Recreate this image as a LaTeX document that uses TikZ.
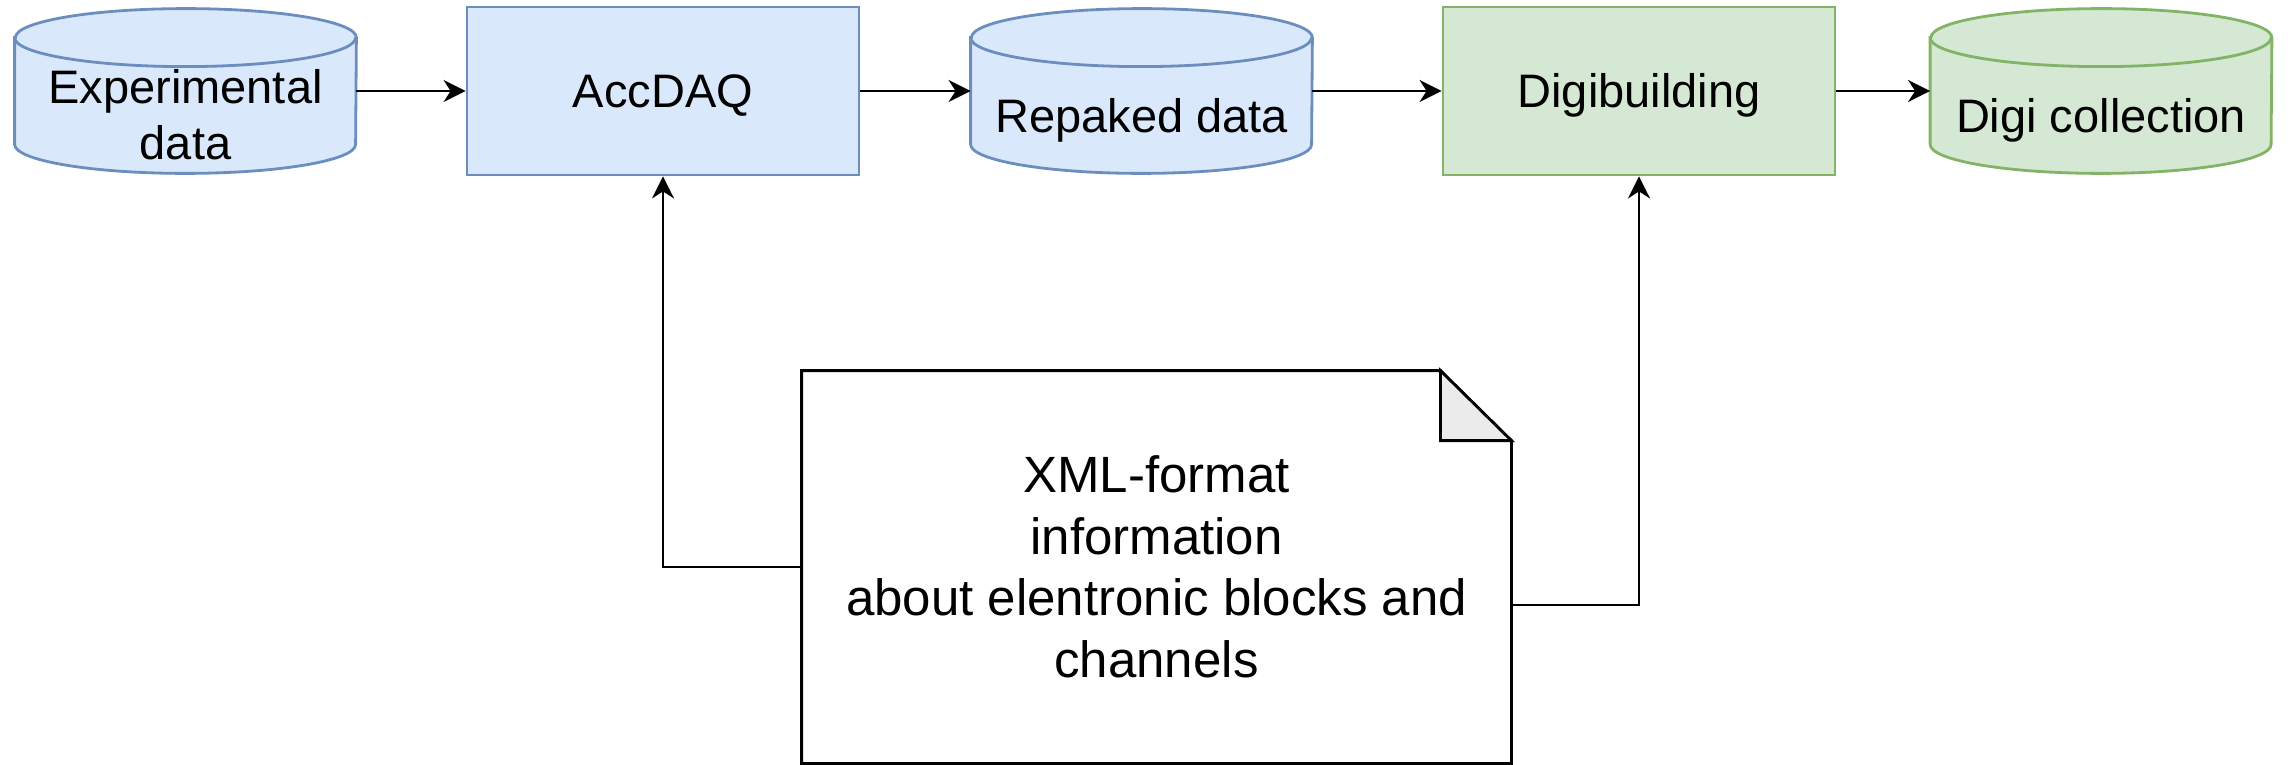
\documentclass[tikz,border=0pt]{standalone}
\usepackage{fontspec}
\setmainfont{Liberation Sans}
\usetikzlibrary{arrows.meta}

\definecolor{blueFill}{HTML}{DAE8FC}
\definecolor{blueLine}{HTML}{6C8EBF}
\definecolor{greenFill}{HTML}{D5E8D4}
\definecolor{greenLine}{HTML}{82B366}
\definecolor{foldGray}{HTML}{EBEBEB}

\begin{document}
\begin{tikzpicture}[x=0.5pt, y=-0.5pt,
    box/.style={rectangle, draw, line width=1.4pt, inner sep=0pt, minimum width=196pt, minimum height=84pt,
        text height=17pt, text depth=0pt, font=\fontsize{23.5}{28.2}\selectfont},
    db/.style={rectangle, inner sep=0pt, minimum width=170.5pt, minimum height=82pt},
    dbtxt/.style={inner sep=0pt, align=center, font=\fontsize{23.5}{28.2}\selectfont},
    arr/.style={line width=1.4pt, -{Stealth[length=11pt, width=11pt, inset=3.5pt]}}]

\useasboundingbox (0,0) rectangle (2288,765);

% databases
\node[db] (exp) at (185.5,91) {};
\node[db] (rep) at (1141.5,91) {};
\node[db] (col) at (2101,91) {};
\foreach \n/\f/\l in {exp/blueFill/blueLine, rep/blueFill/blueLine, col/greenFill/greenLine} {
    \filldraw[fill=\f, draw=\l, line width=1.4pt]
        ([yshift=-14.5pt]\n.north west) -- ([yshift=14.5pt]\n.south west)
        arc[start angle=180, end angle=360, x radius=85.25pt, y radius=14.5pt]
        -- ([yshift=-14.5pt]\n.north east)
        arc[start angle=0, end angle=180, x radius=85.25pt, y radius=14.5pt] -- cycle;
    \draw[draw=\l, line width=1.4pt] ([yshift=-14.5pt]\n.north west)
        arc[start angle=180, end angle=360, x radius=85.25pt, y radius=14.5pt];
}
\node[dbtxt] (expt) at (185.5,114.5) {Experimental\\data};
\node[dbtxt] (rept) at (1141.5,120) {Repaked data};
\node[dbtxt] (colt) at (2101,120) {Digi collection};

% processing blocks
\node[box, fill=blueFill, draw=blueLine] (acc) at (663,91) {AccDAQ};
\node[box, fill=greenFill, draw=greenLine] (dig) at (1639,91) {Digibuilding};

% xml note
\node[rectangle, inner sep=0pt, minimum width=354.5pt, minimum height=196pt, align=center,
    font=\fontsize{25.5}{30.75}\selectfont] (note) at (1156.5,567)
    {XML-format\\information\\about elentronic blocks and\\channels};
\draw[line width=1.4pt] (note.south west) -- (note.north west) -- ([xshift=-35.5pt]note.north east)
    -- ([yshift=-35pt]note.north east) -- (note.south east) -- cycle;
\filldraw[fill=foldGray, line width=1.4pt] ([xshift=-35.5pt]note.north east)
    -- ([xshift=-35.5pt,yshift=-35pt]note.north east) -- ([yshift=-35pt]note.north east) -- cycle;

% connectors
\draw[arr] (exp.east) -- (acc.west);
\draw[arr] (acc.east) -- (rep.west);
\draw[arr] (rep.east) -- (dig.west);
\draw[arr] (dig.east) -- (col.west);
\draw[arr] (note.west) -| (acc.south);
\draw[arr] ([yshift=-19pt]note.east) -| (dig.south);
\end{tikzpicture}
\end{document}
